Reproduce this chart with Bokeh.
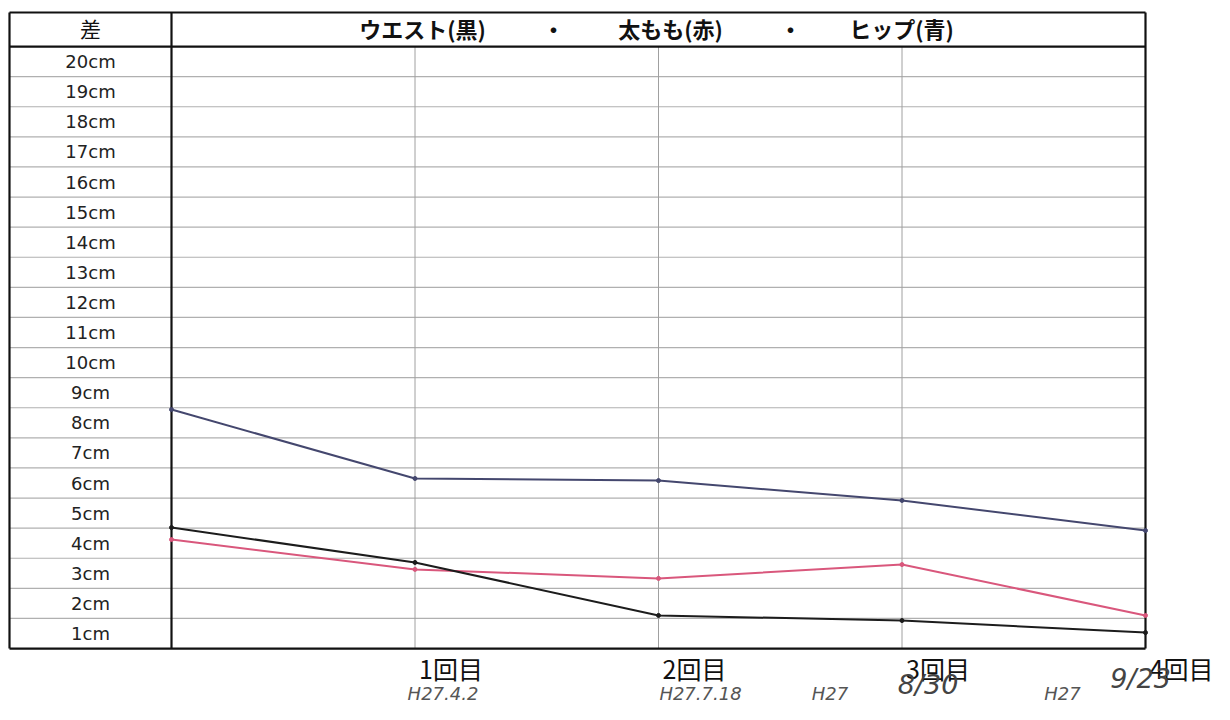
from bokeh.plotting import figure
from bokeh.models import Range1d
from bokeh.core.properties import value
from bokeh.embed import file_html
from bokeh.resources import INLINE

# ---- data ----
sessions = [0, 1, 2, 3, 4]
session_labels = ["1回目", "2回目", "3回目", "4回目"]
date_small = ["H27.4.2", "H27.7.18", "H27", "H27"]
date_big = ["", "", "8/30", "9/23"]
waist = [4.52, 3.36, 1.6, 1.43, 1.03]     # ウエスト(黒)
thigh = [4.12, 3.13, 2.83, 3.29, 1.6]      # 太もも(赤)
hip = [8.44, 6.15, 6.08, 5.42, 4.42]       # ヒップ(青)
row_values = list(range(20, 0, -1))
row_labels = [f"{v}cm" for v in row_values]
corner_label = "差"
title_parts = ["ウエスト(黒)", "・", "太もも(赤)", "・", "ヒップ(青)"]

# ---- geometry helpers (pixel -> data) ----
X0_PX, DX_PX = 171.0, 243.5
Y1_PX, DY_PX = 633.0, 30.1
W, H = 1214, 704


def xd(px):
    return (px - X0_PX) / DX_PX


def yd(py):
    return 1 + (Y1_PX - py) / DY_PX


p = figure(width=W, height=H, output_backend="svg", toolbar_location=None,
           x_range=Range1d(xd(0), xd(W)), y_range=Range1d(yd(H), yd(0)),
           x_axis_type=None, y_axis_type=None, min_border=0)
p.outline_line_color = None
p.grid.visible = False
p.background_fill_color = "white"
p.border_fill_color = "white"

left_x = xd(9)
right_x = sessions[-1]
bottom_y = min(row_values) - 0.5
rows_top = max(row_values) + 0.5
header_top = yd(12)

# thin row lines
inner = [v + 0.5 for v in row_values[1:]]
p.segment(x0=[left_x] * len(inner), x1=[right_x] * len(inner), y0=inner, y1=inner,
          line_color="#b0b0b0", line_width=1.2)
# vertical session lines
vs = sessions[1:-1]
p.segment(x0=vs, x1=vs, y0=[bottom_y] * len(vs), y1=[rows_top] * len(vs),
          line_color="#a0a0a0", line_width=1)
# thick borders
p.segment(x0=[left_x, left_x, left_x], x1=[right_x, right_x, right_x],
          y0=[header_top, rows_top, bottom_y], y1=[header_top, rows_top, bottom_y],
          line_color="#111111", line_width=2.2)
p.segment(x0=[left_x, sessions[0], right_x], x1=[left_x, sessions[0], right_x],
          y0=[header_top] * 3, y1=[bottom_y] * 3, line_color="#111111", line_width=2.2)

# header texts
hy = (header_top + rows_top) / 2 + 0.05
font = value("Noto Sans CJK JP")
p.text(x=[xd(90)], y=[hy], text=[corner_label], text_font=font, text_font_size="21px",
       text_align="center", text_baseline="middle", text_color="#111111")
title_centers_px = [422, 553, 670, 790, 901]
p.text(x=[xd(c) for c in title_centers_px], y=[hy] * len(title_parts), text=title_parts,
       text_font=font, text_font_size="22px", text_font_style="bold",
       text_align="center", text_baseline="middle", text_color="#111111")

# row labels
p.text(x=[xd(90)] * len(row_values), y=row_values, text=row_labels,
       text_font=value("DejaVu Sans"), text_font_size="18px", text_align="center",
       text_baseline="middle", text_color="#222222")

# data lines
for ys, col in [(hip, "#44476e"), (thigh, "#d9577c"), (waist, "#1c1c1c")]:
    p.line(sessions, ys, line_color=col, line_width=2)
    p.scatter(sessions, ys, size=4, fill_color=col, line_color=col)

# session labels
p.text(x=sessions[1:], y=[yd(667)] * 4, text=session_labels, text_font=font,
       text_font_size="25px", text_align="left", text_baseline="middle", x_offset=4,
       text_color="#111111")

# handwritten dates
hand = value("DejaVu Sans")
small_off = [28, 42, -72, -83]
p.text(x=sessions[1:], y=[yd(693)] * 4, text=date_small, text_font=hand,
       text_font_size="18px", text_font_style="italic", text_align="center",
       text_baseline="middle", x_offset=small_off, text_color="#555555")
big_off = [0, 0, 26, -5]
big_y = [684, 684, 684, 678]
p.text(x=sessions[1:], y=[yd(v) for v in big_y], text=date_big, text_font=hand,
       text_font_size="27px", text_font_style="italic", text_align="center",
       text_baseline="middle", x_offset=big_off, text_color="#444444")

open("out.html", "w").write(file_html(p, INLINE))
